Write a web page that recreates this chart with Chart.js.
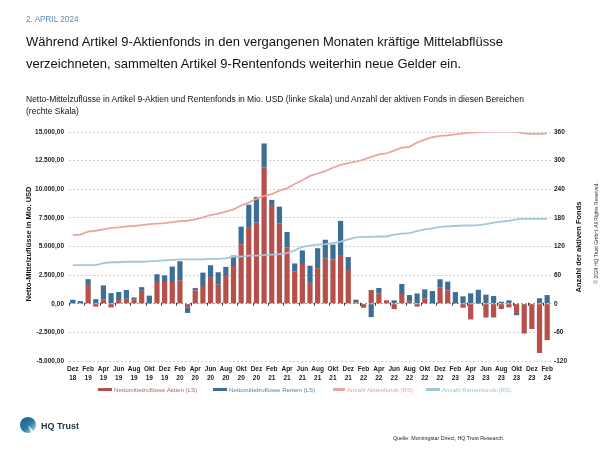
<!DOCTYPE html>
<html><head><meta charset="utf-8">
<script src="https://cdn.jsdelivr.net/npm/chart.js@4.4.1/dist/chart.umd.min.js"></script>
<style>
html,body{margin:0;padding:0;background:#fff;}
body{width:600px;height:450px;position:relative;overflow:hidden;font-family:"Liberation Sans",Arial,Helvetica,sans-serif;}
#c{position:absolute;left:0;top:0;}
.t{position:absolute;white-space:nowrap;}
.rot{position:absolute;white-space:nowrap;transform:translate(-50%,-50%) rotate(-90deg);}
.lg{position:absolute;top:385.7px;font-size:6.1px;white-space:nowrap;}
.sw{position:absolute;top:388px;height:3px;}
</style></head><body>
<canvas id="c" width="600" height="450"></canvas>
<div class="t" style="left:26px;top:15px;font-size:8.2px;color:#5b8db3;">2. APRIL 2024</div>
<div class="t" style="left:26px;top:31px;font-size:13px;line-height:21.5px;color:#111;">Während Artikel 9-Aktienfonds in den vergangenen Monaten kräftige Mittelabflüsse<br>verzeichneten, sammelten Artikel 9-Rentenfonds weiterhin neue Gelder ein.</div>
<div class="t" style="left:26px;top:94px;font-size:8.5px;line-height:11.5px;color:#111;">Netto-Mittelzuflüsse in Artikel 9-Aktien und Rentenfonds in Mio. USD (linke Skala) und Anzahl der aktiven Fonds in diesen Bereichen<br>(rechte Skala)</div>
<div class="rot" style="left:28px;top:244px;font-size:7.5px;font-weight:bold;color:#111;">Netto-Mittelzuflüsse in Mio. USD</div>
<div class="rot" style="left:578px;top:247px;font-size:7.5px;font-weight:bold;color:#111;">Anzahl der aktiven Fonds</div>
<div class="rot" style="left:596px;top:233px;font-size:5px;color:#333;">© 2024 HQ Trust GmbH. All Rights Reserved.</div>

<div class="sw" style="left:98px;width:14px;background:#b5504b;"></div>
<div class="lg" style="left:114px;color:#b9605b;">Nettomittelzuflüsse Aktien (LS)</div>
<div class="sw" style="left:213px;width:14px;background:#3d6f96;"></div>
<div class="lg" style="left:229px;color:#4f7fa3;">Nettomittelzuflüsse Renten (LS)</div>
<div class="sw" style="left:333px;width:12px;background:#eaa5a2;"></div>
<div class="lg" style="left:347px;color:#e9a3a0;">Anzahl Aktienfonds (RS)</div>
<div class="sw" style="left:426px;width:14px;background:#a2c7da;"></div>
<div class="lg" style="left:442px;color:#9cc2d6;">Anzahl Rentenfonds (RS)</div>

<svg style="position:absolute;left:19px;top:416px;" width="20" height="20" viewBox="0 0 20 20">
<defs><linearGradient id="g" x1="0" y1="0" x2="1" y2="1"><stop offset="0" stop-color="#1b5f86"/><stop offset="0.55" stop-color="#2b7fa6"/><stop offset="1" stop-color="#d5e8f0"/></linearGradient></defs>
<circle cx="9" cy="9" r="8" fill="url(#g)"/>
<path d="M9 9 L18 19 L13 19 Z" fill="#fff" opacity="0.9"/>
</svg>
<div class="t" style="left:41px;top:421px;font-size:9px;font-weight:bold;color:#1d3447;">HQ Trust</div>
<div class="t" style="left:393px;top:435px;font-size:5.3px;color:#222;">Quelle: Morningstar Direct, HQ Trust Research.</div>

<script>
const categories = ["Dez 18","Jan 19","Feb 19","Mär 19","Apr 19","Mai 19","Jun 19","Jul 19","Aug 19","Sep 19","Okt 19","Nov 19",
"Dez 19","Jan 20","Feb 20","Mär 20","Apr 20","Mai 20","Jun 20","Jul 20","Aug 20","Sep 20","Okt 20","Nov 20",
"Dez 20","Jan 21","Feb 21","Mär 21","Apr 21","Mai 21","Jun 21","Jul 21","Aug 21","Sep 21","Okt 21","Nov 21",
"Dez 21","Jan 22","Feb 22","Mär 22","Apr 22","Mai 22","Jun 22","Jul 22","Aug 22","Sep 22","Okt 22","Nov 22",
"Dez 22","Jan 23","Feb 23","Mär 23","Apr 23","Mai 23","Jun 23","Jul 23","Aug 23","Sep 23","Okt 23","Nov 23",
"Dez 23","Jan 24","Feb 24"];

const aktienFlows = [50,50,1650,-250,400,-320,320,430,350,1130,30,1900,
1900,1900,2060,-300,1170,1550,2340,1670,2430,3300,5200,6700,
7080,11920,8550,7000,4900,2800,3470,1820,3110,3930,3870,4180,
2950,120,-350,1200,880,300,-470,850,170,-250,470,30,
1400,1170,30,-350,-1370,20,-1200,-1200,-460,-320,-800,-2600,
-2200,-4300,-3180];

const rentenFlows = [300,180,500,400,1200,930,700,770,200,320,680,680,
580,1350,1650,-500,200,1170,1020,1080,790,910,1530,1950,
2250,2080,520,1480,1370,720,1190,1500,1740,1660,1300,3060,
1130,230,0,-1170,500,0,300,880,590,900,790,1080,
740,760,990,650,910,1200,790,680,180,300,-200,0,
0,480,760];

const aktienFundsCount = [144,145,151,153,156,159,160,162,163,165,167,168,
169,171,173,174,177,181,186,189,193,198,206,212,
220,226,230,237,242,251,259,268,273,278,285,291,
295,298,302,308,313,315,321,327,329,338,344,349,
352,353,355,357,359,360,361,361,361,361,361,357,
356,356,357];

const rentenFundsCount = [81,81,81,81,85,87,87,88,88,88,89,90,
91,92,93,93,93,93,94,94,95,99,99,101,
101,102,103,104,106,112,119,122,124,125,127,130,
135,139,140,140,141,141,145,147,148,152,156,158,
161,162,163,164,164,165,167,170,172,174,177,178,
178,178,178];

const leftTicks = [-5000,-2500,0,2500,5000,7500,10000,12500,15000];
const rightTicks = [-120,-60,0,60,120,180,240,300,360];

const FAM = '"Liberation Sans", Arial, Helvetica, sans-serif';

function fmtDE(v){
  const neg = v < 0;
  let s = Math.abs(v).toFixed(0).replace(/\B(?=(\d{3})+(?!\d))/g, '.');
  return (neg ? '-' : '') + s + ',00';
}

const zeroTicks = {
  id:'zeroTicks',
  beforeDatasetsDraw(chart){
    const x = chart.scales.x, y = chart.scales.y;
    const ctx = chart.ctx;
    const y0 = y.getPixelForValue(0);
    const half = (x.getPixelForValue(1) - x.getPixelForValue(0)) / 2;
    ctx.save();
    ctx.strokeStyle = '#333';
    ctx.lineWidth = 1;
    for (let i = 0; i < categories.length; i += 2) {
      const px = Math.round(x.getPixelForValue(i) - half) + 0.5;
      ctx.beginPath(); ctx.moveTo(px, y0 - 1); ctx.lineTo(px, y0 + 2); ctx.stroke();
    }
    ctx.restore();
  }
};

new Chart(document.getElementById('c'), {
  data: {
    labels: categories,
    datasets: [
      {type:'bar', label:'Nettomittelzuflüsse Aktien (LS)', data: aktienFlows, backgroundColor:'#b5504b', yAxisID:'y', stack:'s', order:2, barPercentage:0.68, categoryPercentage:1},
      {type:'bar', label:'Nettomittelzuflüsse Renten (LS)', data: rentenFlows, backgroundColor:'#3d6f96', yAxisID:'y', stack:'s', order:2, barPercentage:0.68, categoryPercentage:1},
      {type:'line', label:'Anzahl Aktienfonds (RS)', data: aktienFundsCount, borderColor:'#eaa5a2', borderWidth:1.8, pointRadius:0, yAxisID:'y2', order:1, tension:0},
      {type:'line', label:'Anzahl Rentenfonds (RS)', data: rentenFundsCount, borderColor:'#a2c7da', borderWidth:1.8, pointRadius:0, yAxisID:'y2', order:1, tension:0}
    ]
  },
  options: {
    responsive:false, animation:false, devicePixelRatio:1,
    layout:{padding:{top:132,left:0,right:0,bottom:0}},
    plugins:{legend:{display:false}, tooltip:{enabled:false}},
    scales:{
      x:{
        stacked:true,
        grid:{display:false},
        border:{display:false},
        ticks:{autoSkip:false, maxRotation:0, minRotation:0, padding:-5, color:'#222',
          font:{family:FAM, size:6.5, weight:'bold', lineHeight:1.5},
          callback:(v,i)=> i % 2 === 0 ? categories[i].split(' ') : ''},
        afterFit(s){ s.height = 89; }
      },
      y:{
        position:'left', stacked:true, min:-5000, max:15000,
        afterBuildTicks(s){ s.ticks = leftTicks.map(v=>({value:v})); },
        ticks:{callback:v=>fmtDE(v), padding:5, color:'#222', font:{family:FAM, size:6.5, weight:'bold'}},
        grid:{drawTicks:false, lineWidth:0.8, color: c => c.tick && c.tick.value === 0 ? '#8a8a8a' : '#c4c4c4'},
        border:{display:false, dash:[2,2]},
        afterFit(s){ s.width = 69; }
      },
      y2:{
        position:'right', min:-120, max:360,
        afterBuildTicks(s){ s.ticks = rightTicks.map(v=>({value:v})); },
        ticks:{padding:3, color:'#222', font:{family:FAM, size:6.5, weight:'bold'}},
        grid:{display:false, drawTicks:false},
        border:{display:false},
        afterFit(s){ s.width = 49; }
      }
    }
  },
  plugins:[zeroTicks]
});
</script>
</body></html>
